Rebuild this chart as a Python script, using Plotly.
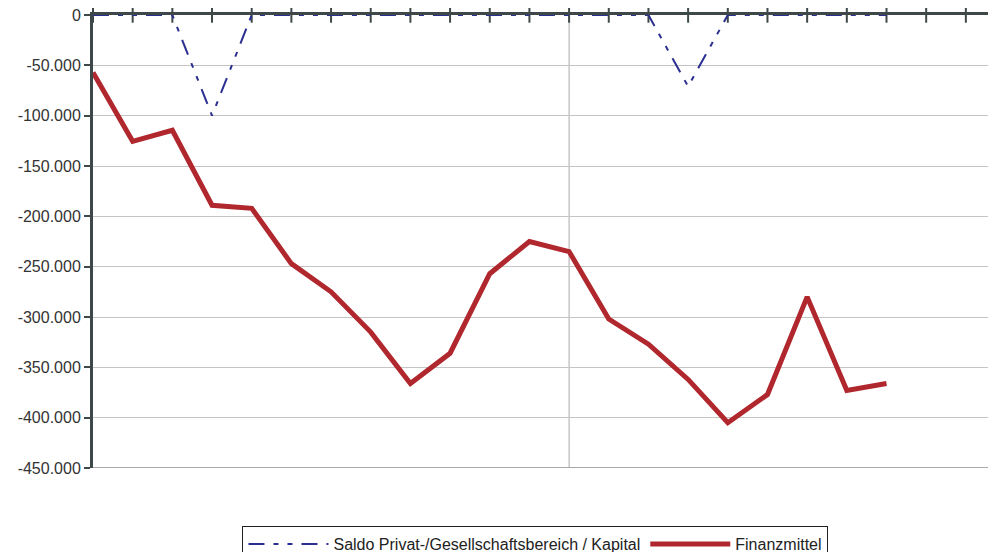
import plotly.graph_objects as go

# ── Data ─────────────────────────────────────────────────────
periods = list(range(23))          # category slots on the x axis
saldo = [0, 0, 0, -100000, 0, 0, 0, 0, 0, 0, 0, 0, 0, 0, 0, -71000, 0, 0, 0, 0, 0]
finanzmittel = [-57000, -125500, -114500, -189000, -192000, -247000, -275000,
                -315000, -366000, -336000, -257000, -225000, -235000, -302000,
                -327000, -362000, -405000, -377000, -280000, -373000, -366000]
divider_period = 12
y_ticks = [0, -50000, -100000, -150000, -200000, -250000, -300000, -350000, -400000, -450000]
y_labels = ["0", "-50.000", "-100.000", "-150.000", "-200.000", "-250.000",
            "-300.000", "-350.000", "-400.000", "-450.000"]

AXIS = "#3e4848"
GRID = "#c4c4c4"
BLUE = "#2b2f8f"
RED = "#b0272e"

fig = go.Figure()

# tick marks crossing the zero line
fig.add_trace(go.Scatter(
    x=periods, y=[0] * len(periods),
    mode="markers",
    marker=dict(symbol="line-ns", size=11, line=dict(color=AXIS, width=2)),
    showlegend=False, hoverinfo="skip", cliponaxis=False,
))

fig.add_trace(go.Scatter(
    name="Saldo Privat-/Gesellschaftsbereich / Kapital",
    x=periods[:len(saldo)], y=saldo,
    mode="lines",
    line=dict(color=BLUE, width=2, dash="16px,9px,5px,9px,5px,9px"),
    cliponaxis=False,
))

fig.add_trace(go.Scatter(
    name="Finanzmittel",
    x=periods[:len(finanzmittel)], y=finanzmittel,
    mode="lines",
    line=dict(color=RED, width=5),
    cliponaxis=False,
))

# page body adds an 8px offset, so the figure is 8px smaller than the window
fig.update_layout(
    width=988, height=544,
    paper_bgcolor="white",
    plot_bgcolor="white",
    font=dict(family="Liberation Sans, Arial", color="#333333", size=14),
    margin=dict(t=7, b=84, l=85, r=0, autoexpand=False),
    xaxis=dict(
        range=[0, 22.76],
        side="top",
        showgrid=False,
        zeroline=False,
        showticklabels=False,
        showline=True, linecolor=AXIS, linewidth=3,
        automargin=False,
    ),
    yaxis=dict(
        range=[-450000, 0],
        tickvals=y_ticks, ticktext=y_labels,
        showgrid=True, gridcolor=GRID, gridwidth=1,
        zeroline=False,
        showline=True, linecolor=AXIS, linewidth=3,
        ticks="outside", ticklen=6, tickwidth=2, tickcolor=AXIS,
        tickfont=dict(size=16, color="#333333"),
        ticklabeloverflow="allow",
        automargin=False,
    ),
    legend=dict(
        orientation="h",
        x=0.49, xanchor="center",
        y=-0.128, yanchor="top",
        bordercolor="#222222", borderwidth=1,
        bgcolor="white",
        font=dict(size=16, color="#222222"),
        itemwidth=80,
    ),
    shapes=[
        dict(type="line", xref="x", yref="paper", x0=divider_period, x1=divider_period,
             y0=0, y1=1, line=dict(color="#a8a8a8", width=1), layer="below"),
        dict(type="line", xref="paper", yref="y", x0=0, x1=1, y0=-450000, y1=-450000,
             line=dict(color="#a8a8a8", width=2), layer="below"),
    ],
)

fig.write_html("out.html")
